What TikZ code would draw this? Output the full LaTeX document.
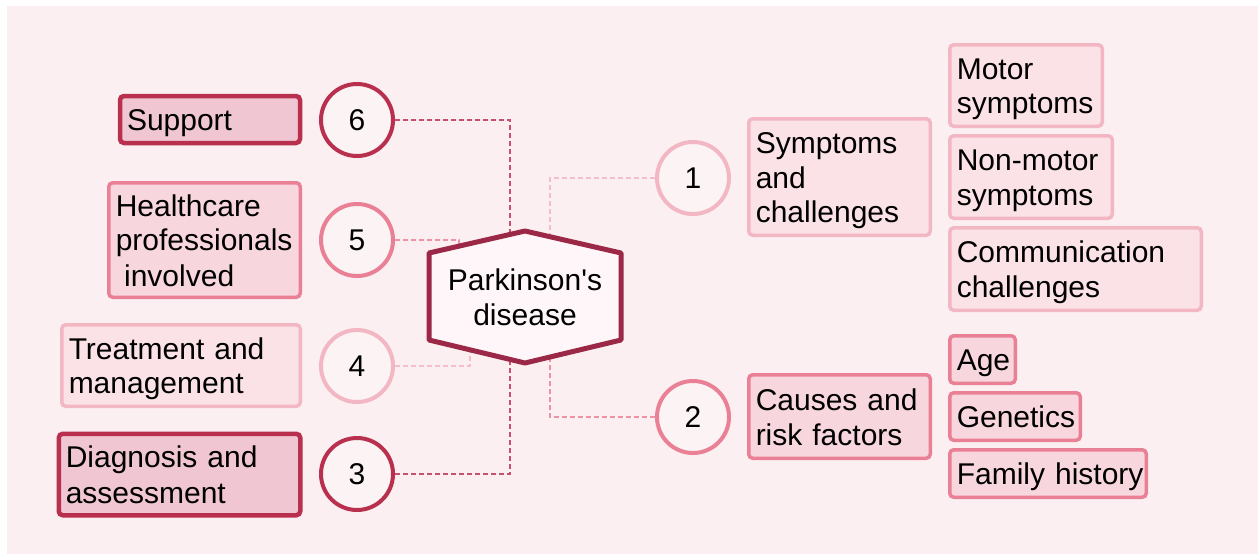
\documentclass[tikz,border=0pt]{standalone}
\usepackage{fontspec}
\newfontfamily\lsans{Liberation Sans}
\definecolor{panel}{HTML}{FBEFF1}
\definecolor{darkc}{HTML}{B9304F}
\definecolor{darkf}{HTML}{EFC6D1}
\definecolor{medc}{HTML}{EA8096}
\definecolor{medf}{HTML}{F8D6DE}
\definecolor{lightc}{HTML}{F3B7C3}
\definecolor{lightf}{HTML}{FBE2E7}
\definecolor{hexc}{HTML}{9C2848}
\definecolor{hexf}{HTML}{FEF6F8}
\definecolor{circf}{HTML}{FCF3F5}
\definecolor{darkd}{HTML}{C8506C}
\definecolor{medd}{HTML}{EC93A4}
\definecolor{lightd}{HTML}{F3BFCA}
\newcommand\nobreakwords{\hyphenpenalty=10000\relax\exhyphenpenalty=10000\relax}
% line strut: full 34.5pt line, baseline low in the line
\newcommand\lstrut{\vrule width 0pt height 28.6pt depth 5.9pt\relax}
\begin{document}
\begin{tikzpicture}[x=1pt,y=-1pt,
  txt/.style={font=\lsans\fontsize{30}{34.5}\selectfont, text=black},
  box/.style={txt, rounded corners=4pt, inner xsep=7pt, inner ysep=0pt, align=left,
    execute at begin node={\nobreakwords\lstrut}, execute at end node=\lstrut},
  dk/.style={draw=darkc, fill=darkf, line width=4.5pt},
  md/.style={draw=medc, fill=medf, line width=3.5pt},
  lt/.style={draw=lightc, fill=lightf, line width=3.5pt},
  sz/.style n args={3}{minimum width=#1pt, minimum height=#2pt, text width=#3pt},
  num/.style={txt, circle, fill=circf, line width=4pt, minimum size=72pt, inner sep=0pt},
  link/.style={line width=1.3pt, dash pattern=on 5pt off 3pt}
]
\useasboundingbox (0,0) rectangle (1258,557);
\fill[white] (0,0) rectangle (1258,557);
\fill[panel] (7,6) rectangle (1258,554);

% points inside the central hexagon where the connectors end
\coordinate (j6) at (510,270);
\coordinate (j5) at (459,270);
\coordinate (j4) at (470,320);
\coordinate (j3) at (510,320);
\coordinate (j1) at (550,270);
\coordinate (j2) at (550,320);

% numbered circles
\node[num, draw=darkc]  (c6) at (357,120) {6};
\node[num, draw=medc]   (c5) at (357,240) {5};
\node[num, draw=lightc] (c4) at (357,366) {4};
\node[num, draw=darkc]  (c3) at (357,474) {3};
\node[num, draw=lightc] (c1) at (693,178) {1};
\node[num, draw=medc]   (c2) at (693,417) {2};

% dashed connectors
\draw[link, darkd]  (c6.east) -| (j6);
\draw[link, medd]   (c5.east) -| (j5);
\draw[link, lightd] (c4.east) -| (j4);
\draw[link, darkd]  (c3.east) -| (j3);
\draw[link, lightd] (c1.west) -| (j1);
\draw[link, medd]   (c2.west) -| (j2);

% central hexagon
\draw[line width=5pt, line join=round, draw=hexc, fill=hexf]
  (429,253) -- (525,231) -- (621,253) -- (621,340) -- (525,363) -- (429,340) -- cycle;
\node[txt, align=center, execute at begin node=\lstrut, execute at end node=\lstrut] (pd) at (525,300) {Parkinson's\\disease};

% left branch
\node[box, dk, sz={180}{47}{166}]     (sup) at (210,119.5) {Support};
\node[box, md, sz={191.5}{114.5}{177.5}] (hc) at (204.5,240) {Healthcare\\professionals\\\hspace{0.28em}involved};
\node[box, lt, sz={238.5}{81.5}{224.5}] (tr) at (181,365.5) {Treatment~and\\management};
\node[box, dk, sz={241.5}{81.5}{227.5}] (dg) at (179.5,474.5) {Diagnosis~and\\assessment};

% right branch
\node[box, lt, sz={181.5}{116.5}{167.5}] (sym) at (839.5,177) {Symptoms\\and\\challenges};
\node[box, md, sz={181.5}{83.5}{167.5}]  (cau) at (839.5,416.5) {Causes~and\\risk~factors};

\node[box, lt, sz={152.5}{81.5}{138.5}] (mot) at (1026,85.5) {Motor\\symptoms};
\node[box, lt, sz={162.5}{82.5}{148.5}] (non) at (1031,177) {Non-motor\\symptoms};
\node[box, lt, sz={251.5}{82.5}{237.5}] (com) at (1075.5,269) {Communication\\challenges};

\node[box, md, sz={65.5}{47.5}{51.5}]   (age) at (982.5,359.5) {Age};
\node[box, md, sz={130.5}{47.5}{116.5}] (gen) at (1015,416.5) {Genetics};
\node[box, md, sz={196.5}{47.5}{182.5}] (fam) at (1048,473.5) {Family~history};
\end{tikzpicture}
\end{document}
